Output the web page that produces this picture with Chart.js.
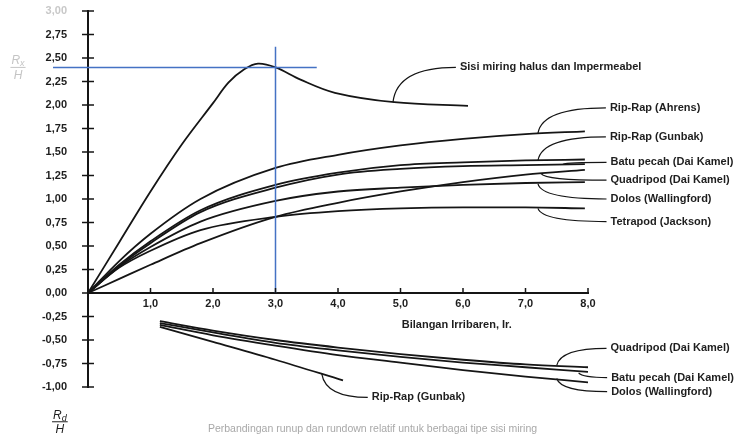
<!DOCTYPE html>
<html>
<head>
<meta charset="utf-8">
<script src="https://cdn.jsdelivr.net/npm/chart.js@4.4.0/dist/chart.umd.min.js"></script>
<style>
    body { margin: 0; background: #fff; }
    #wrap { width: 745px; height: 442px; }
</style>
</head>
<body>
<div id="wrap"><canvas id="runup-canvas" width="745" height="442"></canvas></div>
<script>
// run-up curves (Ir on x, Ru/H on y)
const smoothIr = [0, 0.5, 1.0, 1.5, 2.0, 2.25, 2.5, 2.72, 3.0, 3.4, 3.95, 4.9, 6.08];
const smoothRu = [0, 0.54, 1.08, 1.58, 2.02, 2.24, 2.38, 2.44, 2.40, 2.27, 2.13, 2.03, 1.99];

const upIr = [0, 0.5, 1, 1.8, 3, 4, 5, 6, 7, 7.95];
const ripRapAhrens = [0, 0.34, 0.63, 1.0, 1.33, 1.47, 1.57, 1.64, 1.69, 1.72];
const ripRapGunbak = [0, 0.30, 0.55, 0.88, 1.15, 1.28, 1.36, 1.39, 1.41, 1.42];
const batuPecah = [0, 0.29, 0.53, 0.86, 1.12, 1.26, 1.32, 1.35, 1.36, 1.37];
const quadripod = [0, 0.15, 0.30, 0.53, 0.81, 0.96, 1.08, 1.18, 1.26, 1.31];
const dolos = [0, 0.28, 0.49, 0.76, 0.98, 1.08, 1.12, 1.15, 1.17, 1.18];
const tetrapod = [0, 0.27, 0.45, 0.67, 0.81, 0.87, 0.90, 0.91, 0.91, 0.90];

// run-down curves (Rd/H)
const downIr = [1.15, 2, 3, 4, 5, 6, 7, 8];
const quadripodDown = [-0.30, -0.40, -0.50, -0.58, -0.65, -0.71, -0.76, -0.79];
const batuPecahDown = [-0.32, -0.42, -0.53, -0.61, -0.68, -0.74, -0.79, -0.84];
const dolosDown = [-0.34, -0.45, -0.56, -0.66, -0.74, -0.82, -0.89, -0.95];
const gunbakDownIr = [1.15, 2, 3, 4.08];
const gunbakDown = [-0.36, -0.52, -0.71, -0.93];

// blue reading lines
const guideH = [{ x: -0.56, y: 2.40 }, { x: 3.66, y: 2.40 }];
const guideV = [{ x: 3.0, y: 2.62 }, { x: 3.0, y: 0 }];

// curve labels: text, label position, point on curve
const labelText = [
    'Sisi miring halus dan Impermeabel', 'Rip-Rap (Ahrens)', 'Rip-Rap (Gunbak)',
    'Batu pecah (Dai Kamel)', 'Quadripod (Dai Kamel)', 'Dolos (Wallingford)', 'Tetrapod (Jackson)',
    'Quadripod (Dai Kamel)', 'Batu pecah (Dai Kamel)', 'Dolos (Wallingford)', 'Rip-Rap (Gunbak)'
];
const labelX = [5.95, 8.35, 8.35, 8.36, 8.36, 8.36, 8.36, 8.36, 8.37, 8.37, 4.54];
const labelY = [2.40, 1.97, 1.66, 1.39, 1.20, 1.00, 0.76, -0.59, -0.90, -1.05, -1.11];
const anchorX = [4.88, 7.2, 7.2, 7.6, 7.25, 7.2, 7.2, 7.5, 7.85, 7.5, 3.74];
const anchorY = [2.03, 1.70, 1.41, 1.37, 1.27, 1.16, 0.90, -0.77, -0.85, -0.91, -0.86];

const yTicks = { min: -1, max: 3, step: 0.25 };
const xTicks = { min: 0, max: 8, step: 1 };

const toPts = (xs, ys) => xs.map((x, i) => ({ x: x, y: ys[i] }));
const font = 'Liberation Sans, Arial, sans-serif';

function curve(data, smooth) {
    return {
        data: data,
        borderColor: '#151515',
        borderWidth: 1.8,
        pointRadius: 0,
        tension: smooth ? 0.35 : 0.4,
        cubicInterpolationMode: smooth ? 'default' : 'monotone',
        showLine: true
    };
}

function guide(data) {
    return {
        data: data,
        borderColor: '#4472c4',
        borderWidth: 1.5,
        pointRadius: 0,
        showLine: true,
        clip: false,
        order: -1
    };
}

function fraction(c, cx, cy, sub, color, size) {
    c.save();
    c.fillStyle = color;
    c.strokeStyle = color;
    c.font = 'italic ' + size + 'px ' + font;
    const wR = c.measureText('R').width;
    c.font = 'italic ' + (size - 3) + 'px ' + font;
    const wS = c.measureText(sub).width;
    const w = wR + wS;
    c.textBaseline = 'alphabetic';
    c.textAlign = 'left';
    c.font = 'italic ' + size + 'px ' + font;
    c.fillText('R', cx - w / 2, cy - 3);
    c.font = 'italic ' + (size - 3) + 'px ' + font;
    c.fillText(sub, cx - w / 2 + wR, cy - 1);
    c.lineWidth = 1;
    c.beginPath();
    c.moveTo(cx - w / 2 - 1, cy);
    c.lineTo(cx + w / 2 + 1, cy);
    c.stroke();
    c.font = 'italic ' + size + 'px ' + font;
    c.textAlign = 'center';
    c.textBaseline = 'top';
    c.fillText('H', cx, cy + 2);
    c.restore();
}

const annotate = {
    id: 'annotate',
    afterDraw(chart) {
        const c = chart.ctx;
        const xs = chart.scales.x;
        const ys = chart.scales.y;
        const x0 = xs.getPixelForValue(0);
        const y0 = ys.getPixelForValue(0);
        c.save();
        c.strokeStyle = '#151515';
        c.lineWidth = 1.5;
        // tick marks
        ys.ticks.forEach(t => {
            const p = ys.getPixelForValue(t.value);
            c.beginPath();
            c.moveTo(x0 - 6, p);
            c.lineTo(x0 + 6, p);
            c.stroke();
        });
        xs.ticks.forEach(t => {
            if (t.value === 0) return;
            const p = xs.getPixelForValue(t.value);
            c.beginPath();
            c.moveTo(p, y0);
            c.lineTo(p, y0 - 5);
            c.stroke();
        });
        // leaders + labels
        c.lineWidth = 1.2;
        c.font = 'bold 11px ' + font;
        c.fillStyle = '#1e1e1e';
        c.textBaseline = 'middle';
        c.textAlign = 'left';
        labelText.forEach((txt, i) => {
            const ax = xs.getPixelForValue(anchorX[i]);
            const ay = ys.getPixelForValue(anchorY[i]);
            const lx = xs.getPixelForValue(labelX[i]);
            const ly = ys.getPixelForValue(labelY[i]);
            c.beginPath();
            c.moveTo(ax, ay);
            c.quadraticCurveTo(ax + 4, ly, lx - 4, ly);
            c.stroke();
            c.fillText(txt, lx, ly);
        });
        // axis title
        c.font = 'bold 11px ' + font;
        c.fillText('Bilangan Irribaren, Ir.', xs.getPixelForValue(5.02), ys.getPixelForValue(-0.34));
        // y fractions
        fraction(c, xs.getPixelForValue(-1.12), ys.getPixelForValue(2.40), 'x', '#c4c4c4', 12);
        fraction(c, xs.getPixelForValue(-0.45), ys.getPixelForValue(-1.37), 'd', '#1e1e1e', 12);
        // caption
        c.font = '10.5px ' + font;
        c.fillStyle = '#a8a8a8';
        c.textAlign = 'center';
        c.fillText('Perbandingan runup dan rundown relatif untuk berbagai tipe sisi miring', chart.width / 2, 429);
        c.restore();
    }
};

const ctx = document.getElementById('runup-canvas').getContext('2d');
const runupChart = new Chart(ctx, {
    type: 'scatter',
    data: {
        datasets: [
            guide(guideH),
            guide(guideV),
            curve(toPts(smoothIr, smoothRu), true),
            curve(toPts(upIr, ripRapAhrens)),
            curve(toPts(upIr, ripRapGunbak)),
            curve(toPts(upIr, batuPecah)),
            curve(toPts(upIr, quadripod)),
            curve(toPts(upIr, dolos)),
            curve(toPts(upIr, tetrapod)),
            curve(toPts(downIr, quadripodDown)),
            curve(toPts(downIr, batuPecahDown)),
            curve(toPts(downIr, dolosDown)),
            curve(toPts(gunbakDownIr, gunbakDown))
        ]
    },
    options: {
        responsive: false,
        animation: false,
        layout: { padding: { left: 0, right: 157, top: 11, bottom: 55 } },
        plugins: {
            legend: { display: false },
            tooltip: { enabled: false }
        },
        scales: {
            x: {
                type: 'linear',
                position: { y: 0 },
                min: xTicks.min,
                max: xTicks.max,
                grid: { display: false, drawTicks: false },
                border: { display: true, color: '#151515', width: 2 },
                ticks: {
                    stepSize: xTicks.step,
                    padding: 4,
                    color: '#1e1e1e',
                    font: { family: font, size: 11, weight: 'bold' },
                    callback: v => v === 0 ? '' : Number(v).toFixed(1).replace('.', ',')
                }
            },
            y: {
                type: 'linear',
                position: 'left',
                min: yTicks.min,
                max: yTicks.max,
                afterFit: s => {
                    s.width = 88;
                    s.paddingTop = 0;
                    s.paddingBottom = 0;
                },
                grid: { display: false },
                border: { display: true, color: '#151515', width: 2 },
                ticks: {
                    stepSize: yTicks.step,
                    padding: 13,
                    color: c => c.tick && c.tick.value === 3 ? '#c8c8c8' : '#1e1e1e',
                    font: { family: font, size: 11, weight: 'bold' },
                    callback: v => Number(v).toFixed(2).replace('.', ',')
                }
            }
        }
    },
    plugins: [annotate]
});
</script>
</body>
</html>
